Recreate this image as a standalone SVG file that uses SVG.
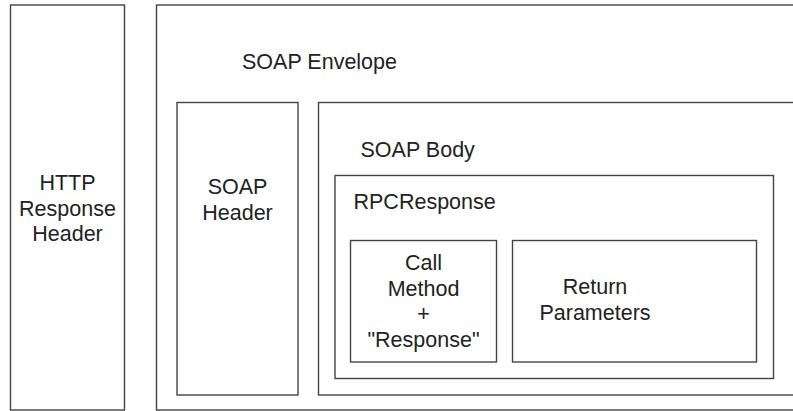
<svg xmlns="http://www.w3.org/2000/svg" width="793" height="411" viewBox="0 0 793 411">
  <style>
    .box { fill: #ffffff; stroke: #444444; stroke-width: 1.4; }
    .lbl { font-family: "Liberation Sans", Arial, sans-serif; font-size: 21.5px; fill: #222222; }
    .mid { text-anchor: middle; }
  </style>
  <rect width="793" height="411" fill="#ffffff"/>

  <g id="http-header">
    <rect class="box" x="10.5" y="5" width="114" height="405"/>
    <text class="lbl mid" x="67.5" y="189.5">HTTP</text>
    <text class="lbl mid" x="67.5" y="215.5">Response</text>
    <text class="lbl mid" x="67.5" y="241">Header</text>
  </g>

  <g id="soap-envelope">
    <rect class="box" x="156.5" y="5" width="660" height="405"/>
    <text class="lbl" x="242" y="68.5">SOAP Envelope</text>
  </g>

  <g id="soap-header">
    <rect class="box" x="177" y="102.5" width="121" height="292.5"/>
    <text class="lbl mid" x="237.5" y="194">SOAP</text>
    <text class="lbl mid" x="237.5" y="219.5">Header</text>
  </g>

  <g id="soap-body">
    <rect class="box" x="318.5" y="102.5" width="500" height="292.5"/>
    <text class="lbl" x="360.5" y="157">SOAP Body</text>
  </g>

  <g id="rpc-response">
    <rect class="box" x="335" y="175.5" width="438.5" height="203"/>
    <text class="lbl" x="353.5" y="209">RPCResponse</text>
  </g>

  <g id="call-method">
    <rect class="box" x="350.5" y="240.5" width="146" height="121.5"/>
    <text class="lbl mid" x="423.5" y="269.5">Call</text>
    <text class="lbl mid" x="423.5" y="295.5">Method</text>
    <text class="lbl mid" x="423.5" y="321">+</text>
    <text class="lbl mid" x="423.5" y="346.5">"Response"</text>
  </g>

  <g id="return-parameters">
    <rect class="box" x="512.5" y="240.5" width="244" height="121.5"/>
    <text class="lbl mid" x="595" y="294">Return</text>
    <text class="lbl mid" x="595" y="319.5">Parameters</text>
  </g>

  <g id="connectors"/>
</svg>
